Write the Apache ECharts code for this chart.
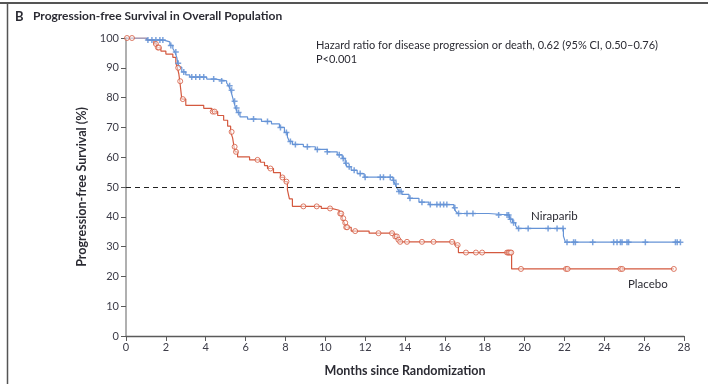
<!DOCTYPE html>
<html>
<head>
<meta charset="utf-8">
<script src="https://cdn.jsdelivr.net/npm/echarts@6/dist/echarts.min.js"></script>
<style>
  html, body { margin: 0; padding: 0; background: #fff; }
  #chart { width: 708px; height: 384px; }
</style>
</head>
<body>
<div id="chart"></div>
<script>
// Kaplan-Meier steps: [month, survival % after the event]
const niraparibSteps = [
  [0,100],[1.05,99.3],[1.9,98.7],[2.2,97.5],[2.35,96.5],[2.45,95.3],[2.55,93.5],[2.6,91.5],
  [2.68,90.2],[2.8,88.6],[3.0,87.6],[3.2,86.9],[4.05,86.2],[4.5,85.6],[5.05,84.9],[5.15,84.0],
  [5.25,82.5],[5.32,80.8],[5.4,78.8],[5.5,76.5],[5.58,75.0],[5.72,73.5],[6.1,72.8],[6.8,72.0],
  [7.3,71.2],[7.7,70.0],[7.95,68.3],[8.1,66.8],[8.2,65.3],[8.35,64.3],[8.9,63.5],[9.5,62.6],
  [10.1,61.8],[10.6,60.8],[10.85,59.6],[11.0,58.0],[11.1,56.8],[11.3,55.6],[11.6,54.5],
  [11.95,53.3],[13.4,52.3],[13.5,51.0],[13.6,49.6],[13.7,48.5],[13.85,47.5],[14.2,46.2],
  [14.7,44.9],[15.2,44.1],[16.45,43.0],[16.55,41.8],[16.65,41.1],[18.2,40.6],[19.25,39.2],
  [19.4,38.0],[19.55,37.0],[19.65,36.1],[21.95,33.5],[22.05,31.5],[27.8,31.5]
];
const placeboSteps = [
  [0,100],[1.05,99.3],[1.4,98.0],[1.55,96.8],[1.75,95.6],[2.0,94.6],[2.35,93.5],[2.5,91.5],
  [2.58,90.0],[2.65,88.0],[2.7,85.5],[2.75,82.5],[2.8,79.5],[3.0,77.4],[3.9,76.4],[4.3,75.3],
  [4.6,74.0],[4.9,72.4],[5.1,70.4],[5.25,68.5],[5.35,66.5],[5.42,63.5],[5.48,61.8],[5.6,60.1],
  [6.2,59.1],[6.75,58.3],[6.95,57.2],[7.1,56.2],[7.4,54.8],[7.75,53.2],[7.95,51.8],[8.1,49.0],
  [8.2,46.0],[8.35,43.5],[9.8,42.8],[10.3,42.2],[10.7,41.1],[10.85,39.5],[10.95,38.0],
  [11.05,36.5],[11.3,35.2],[12.2,34.5],[13.45,33.4],[13.6,32.3],[13.72,31.6],[16.5,30.5],
  [16.68,28.0],[19.35,22.5],[27.5,22.5]
];
// Censoring times (months)
const niraparibCensored = [
  1.1,1.3,1.5,1.7,1.85,2.25,2.5,2.62,2.9,3.3,3.5,3.7,3.9,4.4,4.8,5.2,5.3,5.45,5.55,5.65,6.4,7.1,
  7.75,8.05,8.25,8.5,9.1,9.6,10.1,10.7,10.9,11.05,11.2,11.45,11.75,12.0,12.76,12.92,13.26,13.43,
  13.55,13.7,13.8,14.25,14.85,15.27,15.6,15.77,15.94,16.1,16.5,16.69,17.11,17.41,18.7,19.12,19.2,
  19.3,19.45,19.7,20.18,21.18,21.63,21.93,22.13,22.46,22.55,23.42,24.47,24.64,24.81,24.89,25.14,
  25.22,26.06,27.57,27.66,27.82
];
const placeboCensored = [
  0.05,0.3,1.5,1.6,1.65,2.62,2.72,2.85,4.35,4.45,5.3,5.45,5.52,6.6,7.25,7.85,8.05,8.9,9.57,10.24,
  10.75,10.8,10.9,11.0,11.05,11.1,11.5,12.67,13.35,13.51,13.59,13.67,13.76,14.1,14.85,15.43,16.36,
  16.64,17.06,17.56,17.87,19.12,19.18,19.22,19.28,19.33,19.82,22.08,22.16,24.81,24.9,27.49
];
const xTicks = [0,2,4,6,8,10,12,14,16,18,20,22,24,26,28];
const yTicks = [0,10,20,30,40,50,60,70,80,90,100];
const medianLevel = 50;

// survival value of a step curve at time t
function survivalAt(steps, t) {
  let s = steps[0][1];
  for (const [m, v] of steps) { if (m <= t) s = v; else break; }
  return s;
}
const nirMarks = niraparibCensored.map(t => [t, survivalAt(niraparibSteps, t)]);
const plaMarks = placeboCensored.map(t => [t, survivalAt(placeboSteps, t)]);

const BLUE = '#6593d6';
const RED = '#d4593f';
const TXT = '#2b2b33';
const FONT = 'Lato';
const PLUS = 'path://M-1,-4L1,-4L1,-1L4,-1L4,1L1,1L1,4L-1,4L-1,1L-4,1L-4,-1L-1,-1Z';

const chart = echarts.init(document.getElementById('chart'), null, { renderer: 'canvas' });
chart.setOption({
  animation: false,
  backgroundColor: '#fff',
  textStyle: { fontFamily: FONT },
  grid: { left: 126, right: 24, top: 38, bottom: 48, containLabel: false },
  xAxis: {
    type: 'value', min: 0, max: 28, interval: 2,
    name: 'Months since Randomization', nameLocation: 'middle', nameGap: 28,
    nameTextStyle: { fontFamily: FONT, fontWeight: 'bold', fontSize: 12.5, color: TXT },
    axisLine: { lineStyle: { color: '#5a5a5a', width: 1.3 } },
    axisTick: { length: 5, lineStyle: { color: '#5a5a5a' } },
    axisLabel: { fontSize: 11, color: '#3c3c48', margin: 6, formatter: v => xTicks.includes(v) ? String(v) : '' },
    splitLine: { show: false }
  },
  yAxis: {
    type: 'value', min: 0, max: 100, interval: 10,
    name: 'Progression-free Survival (%)', nameLocation: 'middle', nameGap: 38,
    nameTextStyle: { fontFamily: FONT, fontWeight: 'bold', fontSize: 12.5, color: TXT },
    axisLine: { show: true, lineStyle: { color: '#b0b0b0', width: 2 } },
    axisTick: { show: true, length: 5, lineStyle: { color: '#5a5a5a' } },
    axisLabel: { fontSize: 11, color: '#3c3c48', margin: 7, formatter: v => yTicks.includes(v) ? String(v) : '' },
    splitLine: { show: false }
  },
  series: [
    { name: 'Placebo', type: 'line', step: 'end', data: placeboSteps, showSymbol: false, symbol: 'none',
      lineStyle: { color: RED, width: 1.2, type: 'solid' }, z: 3,
      markLine: { silent: true, symbol: 'none', label: { show: false },
        lineStyle: { color: '#222', width: 1, type: [5, 4] },
        data: [{ yAxis: medianLevel }] } },
    { name: 'Niraparib', type: 'line', step: 'end', data: niraparibSteps, showSymbol: false, symbol: 'none',
      lineStyle: { color: BLUE, width: 1.2, type: 'solid' }, z: 3 },
    { type: 'scatter', data: nirMarks, symbol: PLUS, symbolSize: 6,
      itemStyle: { color: BLUE, opacity: 0.85 }, z: 4 },
    { type: 'scatter', data: plaMarks, symbol: 'circle', symbolSize: 5,
      itemStyle: { color: 'rgba(255,255,255,0.6)', borderColor: RED, borderWidth: 1 }, z: 4 }
  ],
  graphic: [
    { type: 'line', shape: { x1: 0, y1: 3, x2: 708, y2: 3 }, style: { stroke: '#555', lineWidth: 2 } },
    { type: 'line', shape: { x1: 7.5, y1: 3, x2: 7.5, y2: 384 }, style: { stroke: '#555', lineWidth: 1.5 } },
    { type: 'text', left: 15, top: 10, style: { text: 'B', font: 'bold 13px ' + FONT, fill: TXT } },
    { type: 'text', left: 33, top: 10, style: { text: 'Progression-free Survival in Overall Population', font: 'bold 12px ' + FONT, fill: TXT } },
    { type: 'text', left: 316, top: 38, style: { text: 'Hazard ratio for disease progression or death, 0.62 (95% CI, 0.50\u20130.76)\nP<0.001', font: '11px ' + FONT, fill: TXT, lineHeight: 14 } },
    { type: 'text', left: 531, top: 210, style: { text: 'Niraparib', font: '11.5px ' + FONT, fill: TXT } },
    { type: 'text', left: 628, top: 278, style: { text: 'Placebo', font: '11.5px ' + FONT, fill: TXT } }
  ]
});
</script>
</body>
</html>
